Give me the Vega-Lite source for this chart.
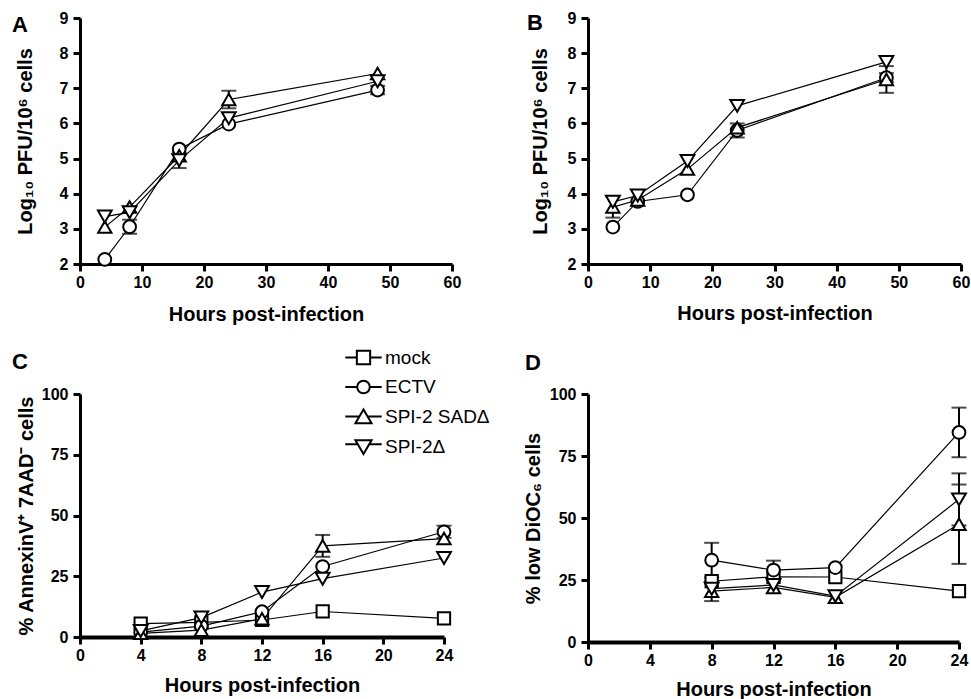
{
  "$schema": "https://vega.github.io/schema/vega-lite/v6.json",
  "padding": {"left": 12, "top": 10, "right": 0, "bottom": 0},
  "background": "white",
  "config": {
    "view": {"stroke": null},
    "font": "Liberation Sans",
    "axis": {"domainColor": "black", "domainWidth": 3, "tickColor": "black", "tickWidth": 3, "tickSize": 7, "labelColor": "black", "labelFontSize": 16, "labelFontWeight": "bold", "labelFont": "Liberation Sans", "titleColor": "black", "titleFont": "Liberation Sans", "titleFontSize": 20, "titleFontWeight": "bold", "grid": false, "labelFlush": false, "labelOverlap": false},
    "axisX": {"labelPadding": 3},
    "axisY": {"labelPadding": 5},
    "title": {"fontSize": 22, "fontWeight": "bold", "color": "black", "anchor": "start", "frame": "group", "offset": 0, "baseline": "alphabetic", "font": "Liberation Sans"}
  },
  "datasets": {
    "A": [
      {"hours": 4, "series": "ECTV", "value": 2.13, "err": null},
      {"hours": 8, "series": "ECTV", "value": 3.06, "err": 0.2},
      {"hours": 16, "series": "ECTV", "value": 5.27, "err": null},
      {"hours": 24, "series": "ECTV", "value": 5.98, "err": null},
      {"hours": 48, "series": "ECTV", "value": 6.95, "err": 0.12},
      {"hours": 4, "series": "SPI-2 SADΔ", "value": 3.05, "err": null},
      {"hours": 8, "series": "SPI-2 SADΔ", "value": 3.62, "err": null},
      {"hours": 16, "series": "SPI-2 SADΔ", "value": 5.08, "err": null},
      {"hours": 24, "series": "SPI-2 SADΔ", "value": 6.68, "err": 0.25},
      {"hours": 48, "series": "SPI-2 SADΔ", "value": 7.42, "err": null},
      {"hours": 4, "series": "SPI-2Δ", "value": 3.35, "err": null},
      {"hours": 8, "series": "SPI-2Δ", "value": 3.47, "err": null},
      {"hours": 16, "series": "SPI-2Δ", "value": 4.95, "err": 0.22},
      {"hours": 24, "series": "SPI-2Δ", "value": 6.15, "err": null},
      {"hours": 48, "series": "SPI-2Δ", "value": 7.2, "err": null}
    ],
    "B": [
      {"hours": 4, "series": "ECTV", "value": 3.05, "err": null},
      {"hours": 8, "series": "ECTV", "value": 3.78, "err": null},
      {"hours": 16, "series": "ECTV", "value": 3.97, "err": null},
      {"hours": 24, "series": "ECTV", "value": 5.8, "err": 0.2},
      {"hours": 48, "series": "ECTV", "value": 7.3, "err": 0.13},
      {"hours": 4, "series": "SPI-2 SADΔ", "value": 3.62, "err": 0.3},
      {"hours": 8, "series": "SPI-2 SADΔ", "value": 3.82, "err": null},
      {"hours": 16, "series": "SPI-2 SADΔ", "value": 4.7, "err": null},
      {"hours": 24, "series": "SPI-2 SADΔ", "value": 5.88, "err": null},
      {"hours": 48, "series": "SPI-2 SADΔ", "value": 7.25, "err": 0.38},
      {"hours": 4, "series": "SPI-2Δ", "value": 3.77, "err": null},
      {"hours": 8, "series": "SPI-2Δ", "value": 3.95, "err": null},
      {"hours": 16, "series": "SPI-2Δ", "value": 4.93, "err": null},
      {"hours": 24, "series": "SPI-2Δ", "value": 6.5, "err": null},
      {"hours": 48, "series": "SPI-2Δ", "value": 7.75, "err": null}
    ],
    "C": [
      {"hours": 4, "series": "mock", "value": 5.5, "err": null},
      {"hours": 8, "series": "mock", "value": 6, "err": null},
      {"hours": 12, "series": "mock", "value": 7, "err": null},
      {"hours": 16, "series": "mock", "value": 10.5, "err": null},
      {"hours": 24, "series": "mock", "value": 7.7, "err": null},
      {"hours": 4, "series": "ECTV", "value": 2, "err": null},
      {"hours": 8, "series": "ECTV", "value": 4.5, "err": null},
      {"hours": 12, "series": "ECTV", "value": 10.4, "err": null},
      {"hours": 16, "series": "ECTV", "value": 29, "err": null},
      {"hours": 24, "series": "ECTV", "value": 43.3, "err": 2.5},
      {"hours": 4, "series": "SPI-2 SADΔ", "value": 1.5, "err": null},
      {"hours": 8, "series": "SPI-2 SADΔ", "value": 2.8, "err": null},
      {"hours": 12, "series": "SPI-2 SADΔ", "value": 7.5, "err": null},
      {"hours": 16, "series": "SPI-2 SADΔ", "value": 37.5, "err": 4.5},
      {"hours": 24, "series": "SPI-2 SADΔ", "value": 40.5, "err": null},
      {"hours": 4, "series": "SPI-2Δ", "value": 2.5, "err": null},
      {"hours": 8, "series": "SPI-2Δ", "value": 8, "err": null},
      {"hours": 12, "series": "SPI-2Δ", "value": 18.5, "err": null},
      {"hours": 16, "series": "SPI-2Δ", "value": 24, "err": null},
      {"hours": 24, "series": "SPI-2Δ", "value": 32.5, "err": null}
    ],
    "D": [
      {"hours": 8, "series": "mock", "value": 24.5, "err": null},
      {"hours": 12, "series": "mock", "value": 26.3, "err": null},
      {"hours": 16, "series": "mock", "value": 26.2, "err": null},
      {"hours": 24, "series": "mock", "value": 20.5, "err": null},
      {"hours": 8, "series": "ECTV", "value": 33, "err": 7},
      {"hours": 12, "series": "ECTV", "value": 29, "err": 3.8},
      {"hours": 16, "series": "ECTV", "value": 30, "err": null},
      {"hours": 24, "series": "ECTV", "value": 84.5, "err": 10},
      {"hours": 8, "series": "SPI-2 SADΔ", "value": 20.5, "err": 4},
      {"hours": 12, "series": "SPI-2 SADΔ", "value": 22, "err": null},
      {"hours": 16, "series": "SPI-2 SADΔ", "value": 18, "err": null},
      {"hours": 24, "series": "SPI-2 SADΔ", "value": 47.5, "err": 16},
      {"hours": 8, "series": "SPI-2Δ", "value": 21.5, "err": null},
      {"hours": 12, "series": "SPI-2Δ", "value": 23, "err": null},
      {"hours": 16, "series": "SPI-2Δ", "value": 18.5, "err": null},
      {"hours": 24, "series": "SPI-2Δ", "value": 57.5, "err": 10.5}
    ]
  },
  "columns": 2,
  "bounds": "flush",
  "spacing": {"row": 130, "column": 136},
  "concat": [
    {
      "width": 372, "height": 246,
      "data": {"name": "A"},
      "title": {"text": "A", "dx": -68, "dy": 31},
      "encoding": {
        "x": {"field": "hours", "type": "quantitative", "scale": {"domain": [0, 60], "nice": false, "zero": false}, "axis": {"values": [0, 10, 20, 30, 40, 50, 60], "title": "Hours post-infection", "titleY": 40}},
        "y": {"field": "value", "type": "quantitative", "scale": {"domain": [2, 9], "nice": false, "zero": false}, "axis": {"values": [2, 3, 4, 5, 6, 7, 8, 9], "title": "Log₁₀ PFU/10⁶ cells", "titleX": -45}}
      },
      "layer": [
        {"mark": {"type": "line", "stroke": "black", "strokeWidth": 1.2}, "encoding": {"detail": {"field": "series"}}},
        {"transform": [{"filter": "datum.err > 0"}], "mark": {"type": "errorbar", "ticks": true, "size": 15, "thickness": 2, "color": "black"}, "encoding": {"yError": {"field": "err"}}},
        {"mark": {"type": "point", "filled": true, "fill": "white", "stroke": "black", "strokeWidth": 2, "opacity": 1},
         "encoding": {
           "shape": {"field": "series", "type": "nominal", "scale": {"domain": ["mock", "ECTV", "SPI-2 SADΔ", "SPI-2Δ"], "range": ["square", "circle", "triangle-up", "triangle-down"]}, "legend": null},
           "size": {"field": "series", "type": "nominal", "scale": {"domain": ["mock", "ECTV", "SPI-2 SADΔ", "SPI-2Δ"], "range": [150, 190, 250, 250]}, "legend": null}
         }}
      ]
    },
    {
      "width": 373, "height": 246,
      "data": {"name": "B"},
      "title": {"text": "B", "dx": -61, "dy": 29},
      "encoding": {
        "x": {"field": "hours", "type": "quantitative", "scale": {"domain": [0, 60], "nice": false, "zero": false}, "axis": {"values": [0, 10, 20, 30, 40, 50, 60], "title": "Hours post-infection", "titleY": 39}},
        "y": {"field": "value", "type": "quantitative", "scale": {"domain": [2, 9], "nice": false, "zero": false}, "axis": {"values": [2, 3, 4, 5, 6, 7, 8, 9], "title": "Log₁₀ PFU/10⁶ cells", "titleX": -38}}
      },
      "layer": [
        {"mark": {"type": "line", "stroke": "black", "strokeWidth": 1.2}, "encoding": {"detail": {"field": "series"}}},
        {"transform": [{"filter": "datum.err > 0"}], "mark": {"type": "errorbar", "ticks": true, "size": 15, "thickness": 2, "color": "black"}, "encoding": {"yError": {"field": "err"}}},
        {"mark": {"type": "point", "filled": true, "fill": "white", "stroke": "black", "strokeWidth": 2, "opacity": 1},
         "encoding": {
           "shape": {"field": "series", "type": "nominal", "scale": {"domain": ["mock", "ECTV", "SPI-2 SADΔ", "SPI-2Δ"], "range": ["square", "circle", "triangle-up", "triangle-down"]}, "legend": null},
           "size": {"field": "series", "type": "nominal", "scale": {"domain": ["mock", "ECTV", "SPI-2 SADΔ", "SPI-2Δ"], "range": [150, 190, 250, 250]}, "legend": null}
         }}
      ]
    },
    {
      "width": 364, "height": 243,
      "data": {"name": "C"},
      "title": {"text": "C", "dx": -68, "dy": 30},
      "encoding": {
        "x": {"field": "hours", "type": "quantitative", "scale": {"domain": [0, 24], "nice": false, "zero": false}, "axis": {"values": [0, 4, 8, 12, 16, 20, 24], "title": "Hours post-infection", "titleY": 38.5, "domainWidth": 4}},
        "y": {"field": "value", "type": "quantitative", "scale": {"domain": [0, 100], "nice": false, "zero": false}, "axis": {"values": [0, 25, 50, 75, 100], "title": "% AnnexinV⁺ 7AAD⁻ cells", "titleX": -44}}
      },
      "resolve": {"scale": {"shape": "independent", "size": "independent"}, "legend": {"shape": "independent"}},
      "layer": [
        {"mark": {"type": "line", "stroke": "black", "strokeWidth": 1.2}, "encoding": {"detail": {"field": "series"}}},
        {"transform": [{"filter": "datum.err > 0"}], "mark": {"type": "errorbar", "ticks": true, "size": 15, "thickness": 2, "color": "black"}, "encoding": {"yError": {"field": "err"}}},
        {"mark": {"type": "point", "filled": true, "fill": "white", "stroke": "black", "strokeWidth": 2, "opacity": 1},
         "encoding": {
           "shape": {"field": "series", "type": "nominal", "scale": {"domain": ["mock", "ECTV", "SPI-2 SADΔ", "SPI-2Δ"], "range": ["square", "circle", "triangle-up", "triangle-down"]}, "legend": null},
           "size": {"field": "series", "type": "nominal", "scale": {"domain": ["mock", "ECTV", "SPI-2 SADΔ", "SPI-2Δ"], "range": [150, 190, 250, 250]}, "legend": null}
         }},
        {"transform": [{"filter": "false"}],
         "mark": {"type": "point", "filled": false, "color": "black", "strokeWidth": 2},
         "encoding": {
           "shape": {"field": "series", "type": "nominal",
             "scale": {"domain": ["mock", "ECTV", "SPI-2 SADΔ", "SPI-2Δ"], "range": [
               "M-2.6,0H-0.95M-0.95,-0.95H0.95V0.95H-0.95ZM0.95,0H2.6",
               "M-2.6,0H-0.9M-0.9,0A0.9,0.9 0 1,1 0.9,0A0.9,0.9 0 1,1 -0.9,0M0.9,0H2.6",
               "M-2.6,0H-0.6M0.6,0H2.6M0,-1L1.15,0.95L-1.15,0.95Z",
               "M-2.6,-0.4H-0.83M0.83,-0.4H2.6M0,1L1.15,-0.95L-1.15,-0.95Z"
             ]},
             "legend": {"orient": "none", "legendX": 274, "legendY": -46, "title": null, "labelFont": "Liberation Sans", "labelFontSize": 19, "labelFontWeight": "normal", "labelColor": "black", "symbolSize": 196, "rowPadding": 7.5, "labelOffset": 12, "padding": 0, "symbolStrokeWidth": 2, "symbolStrokeColor": "black", "symbolOpacity": 1}
           }
         }}
      ]
    },
    {
      "width": 371, "height": 248,
      "data": {"name": "D"},
      "title": {"text": "D", "dx": -63, "dy": -7},
      "encoding": {
        "x": {"field": "hours", "type": "quantitative", "scale": {"domain": [0, 24], "nice": false, "zero": false}, "axis": {"values": [0, 4, 8, 12, 16, 20, 24], "title": "Hours post-infection", "titleY": 37.5, "domainWidth": 4}},
        "y": {"field": "value", "type": "quantitative", "scale": {"domain": [0, 100], "nice": false, "zero": false}, "axis": {"values": [0, 25, 50, 75, 100], "title": "% low DiOC₆ cells", "titleX": -45}}
      },
      "layer": [
        {"mark": {"type": "line", "stroke": "black", "strokeWidth": 1.2}, "encoding": {"detail": {"field": "series"}}},
        {"transform": [{"filter": "datum.err > 0"}], "mark": {"type": "errorbar", "ticks": true, "size": 15, "thickness": 2, "color": "black"}, "encoding": {"yError": {"field": "err"}}},
        {"mark": {"type": "point", "filled": true, "fill": "white", "stroke": "black", "strokeWidth": 2, "opacity": 1},
         "encoding": {
           "shape": {"field": "series", "type": "nominal", "scale": {"domain": ["mock", "ECTV", "SPI-2 SADΔ", "SPI-2Δ"], "range": ["square", "circle", "triangle-up", "triangle-down"]}, "legend": null},
           "size": {"field": "series", "type": "nominal", "scale": {"domain": ["mock", "ECTV", "SPI-2 SADΔ", "SPI-2Δ"], "range": [150, 190, 250, 250]}, "legend": null}
         }}
      ]
    }
  ]
}
